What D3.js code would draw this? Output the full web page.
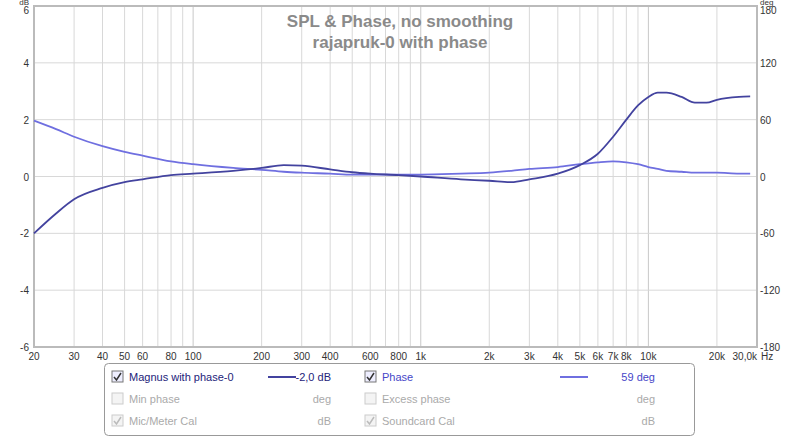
<!DOCTYPE html>
<html><head><meta charset="utf-8">
<script src="https://cdn.jsdelivr.net/npm/d3@7"></script>
<style>body{margin:0;background:#fff;font-family:"Liberation Sans",Arial,sans-serif}</style>
</head><body><div id="chart"></div>
<script>
var freqs = [20,25,30,40,50,60,80,100,150,200,250,300,400,500,600,800,1000,1500,2000,2500,3000,4000,5000,6000,7000,8000,9000,10000,11000,12000,14000,16000,18000,20000,25000,28000];
var magDb = [-2.0,-1.3,-0.8,-0.4,-0.2,-0.1,0.05,0.1,0.2,0.3,0.4,0.38,0.25,0.15,0.1,0.05,0.0,-0.1,-0.15,-0.2,-0.1,0.1,0.4,0.8,1.4,2.0,2.5,2.8,2.95,2.95,2.8,2.6,2.6,2.7,2.8,2.82];
var phaseDeg = [59,50,42,32,26,22,16,13,9,7,5,4,3,2,2,2,2,3,4,6,8,10,13,15,16,15,13,10,8,6,5,4,4,4,3,3];
var freqTicks = [20,30,40,50,60,80,100,200,300,400,600,800,1000,2000,3000,4000,5000,6000,7000,8000,10000,20000,30000];
var freqLabels = ["20","30","40","50","60","80","100","200","300","400","600","800","1k","2k","3k","4k","5k","6k","7k","8k","10k","20k","30,0k"];
var gridFreqs = [20,30,40,50,60,70,80,90,100,200,300,400,500,600,700,800,900,1000,2000,3000,4000,5000,6000,7000,8000,9000,10000,20000,30000];
var dbTicks = [-6,-4,-2,0,2,4,6];
var degTicks = [-180,-120,-60,0,60,120,180];

var svg = d3.select("#chart").append("svg").attr("width",800).attr("height",438);
var x = d3.scaleLog().domain([20,30000]).range([34,757]);
var yDb = d3.scaleLinear().domain([-6,6]).range([347,6]);
var yDeg = d3.scaleLinear().domain([-180,180]).range([347,6]);

svg.selectAll("line.vg").data(gridFreqs).enter().append("line").attr("class","vg")
  .attr("x1",d=>x(d)).attr("x2",d=>x(d)).attr("y1",6).attr("y2",347)
  .attr("stroke",d=>[100,1000,10000].includes(d)?"#c8c8c8":"#d8d8d8").attr("stroke-width",1);
svg.selectAll("line.hg").data(dbTicks).enter().append("line").attr("class","hg")
  .attr("x1",34).attr("x2",757).attr("y1",d=>yDb(d)).attr("y2",d=>yDb(d))
  .attr("stroke","#d8d8d8");
svg.append("rect").attr("x",34).attr("y",6).attr("width",723).attr("height",341)
  .attr("fill","none").attr("stroke","#bbb").attr("stroke-width",2);

svg.selectAll("text.fl").data(freqTicks).enter().append("text")
  .attr("x",d=>x(d)).attr("y",360).attr("text-anchor",d=>d==30000?"end":"middle").attr("font-size",10).attr("fill","#333")
  .text((d,i)=>freqLabels[i]);
svg.append("text").attr("x",761).attr("y",360).attr("font-size",10).attr("fill","#333").text("Hz");
svg.selectAll("text.dl").data(dbTicks).enter().append("text")
  .attr("x",29).attr("y",d=>d==6?yDb(d)+8:yDb(d)+4).attr("text-anchor","end").attr("font-size",10).attr("fill","#333").text(d=>d);
svg.selectAll("text.gl").data(degTicks).enter().append("text")
  .attr("x",760).attr("y",d=>d==180?yDeg(d)+8:yDeg(d)+4).attr("font-size",10).attr("fill","#333").text(d=>d);
svg.append("text").attr("x",29).attr("y",5).attr("text-anchor","end").attr("font-size",8).attr("fill","#333").text("dB");
svg.append("text").attr("x",760).attr("y",5).attr("font-size",8).attr("fill","#333").text("deg");

svg.append("text").attr("x",400).attr("y",27).attr("text-anchor","middle").attr("font-size",17).attr("font-weight","bold").attr("fill","#8a8a8a").text("SPL & Phase, no smoothing");
svg.append("text").attr("x",400).attr("y",48).attr("text-anchor","middle").attr("font-size",17).attr("font-weight","bold").attr("fill","#8a8a8a").text("rajapruk-0 with phase");

var mag = freqs.map((f,i)=>[f,magDb[i]]);
var ph = freqs.map((f,i)=>[f,phaseDeg[i]]);
svg.append("path").datum(ph).attr("fill","none").attr("stroke","#6f6fe0").attr("stroke-width",1.8)
  .attr("d",d3.line().curve(d3.curveMonotoneX).x(d=>x(d[0])).y(d=>yDeg(d[1])));
svg.append("path").datum(mag).attr("fill","none").attr("stroke","#43439f").attr("stroke-width",1.8)
  .attr("d",d3.line().curve(d3.curveMonotoneX).x(d=>x(d[0])).y(d=>yDb(d[1])));

// legend
svg.append("rect").attr("x",104.5).attr("y",363.5).attr("width",590).attr("height",72).attr("rx",4)
  .attr("fill","#fff").attr("stroke","#999");
var rows = [
  {l:"Magnus with phase-0", v:"-2,0 dB", c:"#23237a", on:true, line:"#43439f", col:0, row:0},
  {l:"Phase", v:"59 deg", c:"#4646c8", on:true, line:"#6f6fe0", col:1, row:0},
  {l:"Min phase", v:"deg", c:"#aaa", on:false, col:0, row:1},
  {l:"Excess phase", v:"deg", c:"#aaa", on:false, col:1, row:1},
  {l:"Mic/Meter Cal", v:"dB", c:"#aaa", on:true, dim:true, col:0, row:2},
  {l:"Soundcard Cal", v:"dB", c:"#aaa", on:true, dim:true, col:1, row:2}
];
var g = svg.selectAll("g.lg").data(rows).enter().append("g")
  .attr("transform",d=>"translate("+(112+d.col*253)+","+(371+d.row*22)+")");
g.append("rect").attr("width",11).attr("height",11).attr("fill",d=>d.dim||!d.on?"#f4f4f4":"#eef")
  .attr("stroke",d=>d.dim||!d.on?"#ccc":"#777");
g.filter(d=>d.on).append("path").attr("d","M2,6 L4.5,9 L9,2").attr("fill","none")
  .attr("stroke",d=>d.dim?"#bbb":"#333").attr("stroke-width",1.5);
g.append("text").attr("x",17).attr("y",10).attr("font-size",11).attr("fill",d=>d.c).text(d=>d.l);
g.filter(d=>d.line).append("line").attr("x1",d=>d.col?195:156).attr("x2",d=>d.col?223:184)
  .attr("y1",6).attr("y2",6).attr("stroke",d=>d.line).attr("stroke-width",2);
g.append("text").attr("x",d=>d.col?290:219).attr("y",10).attr("text-anchor","end").attr("font-size",11)
  .attr("fill",d=>d.c).text(d=>d.v);
</script></body></html>
